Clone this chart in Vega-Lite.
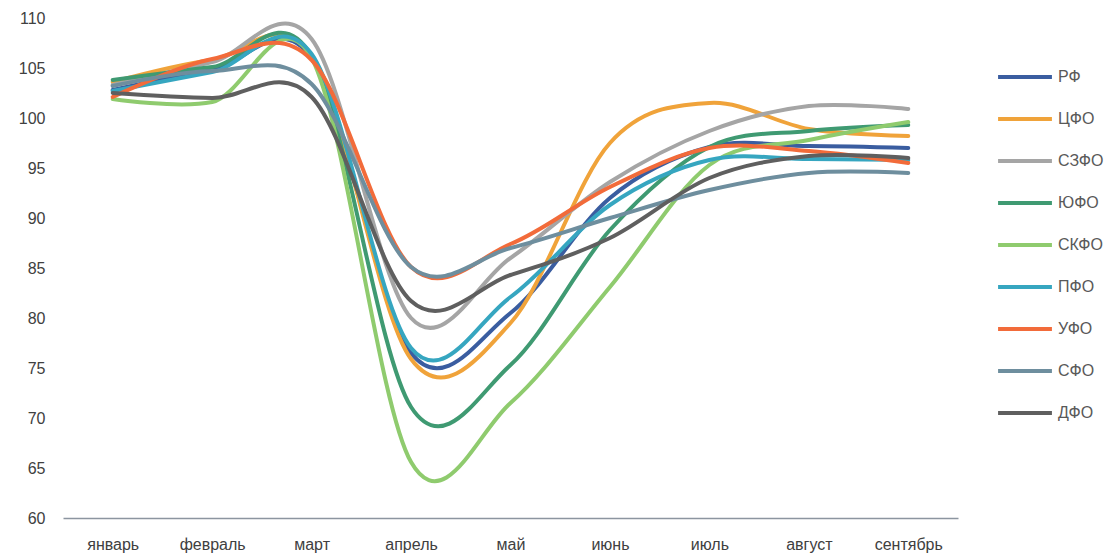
{
  "$schema": "https://vega.github.io/schema/vega-lite/v6.json",
  "width": 895,
  "height": 500,
  "autosize": "none",
  "padding": {"left": 63, "top": 18, "right": 152, "bottom": 39},
  "background": "white",
  "config": {"view": {"stroke": null}, "font": "Liberation Sans"},
  "data": {
    "values": [
      {"region": "РФ", "month": "январь", "value": 102.8},
      {"region": "РФ", "month": "февраль", "value": 104.8},
      {"region": "РФ", "month": "март", "value": 106.0},
      {"region": "РФ", "month": "апрель", "value": 76.5},
      {"region": "РФ", "month": "май", "value": 80.5},
      {"region": "РФ", "month": "июнь", "value": 92.0},
      {"region": "РФ", "month": "июль", "value": 97.1},
      {"region": "РФ", "month": "август", "value": 97.2},
      {"region": "РФ", "month": "сентябрь", "value": 97.0},
      {"region": "ЦФО", "month": "январь", "value": 103.6},
      {"region": "ЦФО", "month": "февраль", "value": 105.8},
      {"region": "ЦФО", "month": "март", "value": 106.2},
      {"region": "ЦФО", "month": "апрель", "value": 75.9},
      {"region": "ЦФО", "month": "май", "value": 79.5},
      {"region": "ЦФО", "month": "июнь", "value": 97.5},
      {"region": "ЦФО", "month": "июль", "value": 101.5},
      {"region": "ЦФО", "month": "август", "value": 98.9},
      {"region": "ЦФО", "month": "сентябрь", "value": 98.2},
      {"region": "СЗФО", "month": "январь", "value": 103.3},
      {"region": "СЗФО", "month": "февраль", "value": 105.6},
      {"region": "СЗФО", "month": "март", "value": 107.9},
      {"region": "СЗФО", "month": "апрель", "value": 80.0},
      {"region": "СЗФО", "month": "май", "value": 86.0},
      {"region": "СЗФО", "month": "июнь", "value": 93.6},
      {"region": "СЗФО", "month": "июль", "value": 98.7},
      {"region": "СЗФО", "month": "август", "value": 101.2},
      {"region": "СЗФО", "month": "сентябрь", "value": 100.9},
      {"region": "ЮФО", "month": "январь", "value": 103.8},
      {"region": "ЮФО", "month": "февраль", "value": 105.1},
      {"region": "ЮФО", "month": "март", "value": 106.2},
      {"region": "ЮФО", "month": "апрель", "value": 71.1},
      {"region": "ЮФО", "month": "май", "value": 75.3},
      {"region": "ЮФО", "month": "июнь", "value": 88.8},
      {"region": "ЮФО", "month": "июль", "value": 97.1},
      {"region": "ЮФО", "month": "август", "value": 98.7},
      {"region": "ЮФО", "month": "сентябрь", "value": 99.3},
      {"region": "СКФО", "month": "январь", "value": 101.9},
      {"region": "СКФО", "month": "февраль", "value": 101.6},
      {"region": "СКФО", "month": "март", "value": 106.0},
      {"region": "СКФО", "month": "апрель", "value": 65.6},
      {"region": "СКФО", "month": "май", "value": 71.5},
      {"region": "СКФО", "month": "июнь", "value": 83.1},
      {"region": "СКФО", "month": "июль", "value": 95.3},
      {"region": "СКФО", "month": "август", "value": 97.8},
      {"region": "СКФО", "month": "сентябрь", "value": 99.6},
      {"region": "ПФО", "month": "январь", "value": 102.7},
      {"region": "ПФО", "month": "февраль", "value": 104.6},
      {"region": "ПФО", "month": "март", "value": 106.4},
      {"region": "ПФО", "month": "апрель", "value": 77.0},
      {"region": "ПФО", "month": "май", "value": 82.1},
      {"region": "ПФО", "month": "июнь", "value": 91.3},
      {"region": "ПФО", "month": "июль", "value": 95.8},
      {"region": "ПФО", "month": "август", "value": 95.9},
      {"region": "ПФО", "month": "сентябрь", "value": 95.8},
      {"region": "УФО", "month": "январь", "value": 102.1},
      {"region": "УФО", "month": "февраль", "value": 105.9},
      {"region": "УФО", "month": "март", "value": 105.8},
      {"region": "УФО", "month": "апрель", "value": 85.1},
      {"region": "УФО", "month": "май", "value": 87.4},
      {"region": "УФО", "month": "июнь", "value": 93.1},
      {"region": "УФО", "month": "июль", "value": 97.0},
      {"region": "УФО", "month": "август", "value": 96.7},
      {"region": "УФО", "month": "сентябрь", "value": 95.5},
      {"region": "СФО", "month": "январь", "value": 103.2},
      {"region": "СФО", "month": "февраль", "value": 104.7},
      {"region": "СФО", "month": "март", "value": 103.4},
      {"region": "СФО", "month": "апрель", "value": 85.1},
      {"region": "СФО", "month": "май", "value": 87.0},
      {"region": "СФО", "month": "июнь", "value": 90.0},
      {"region": "СФО", "month": "июль", "value": 92.8},
      {"region": "СФО", "month": "август", "value": 94.5},
      {"region": "СФО", "month": "сентябрь", "value": 94.5},
      {"region": "ДФО", "month": "январь", "value": 102.5},
      {"region": "ДФО", "month": "февраль", "value": 102.0},
      {"region": "ДФО", "month": "март", "value": 102.1},
      {"region": "ДФО", "month": "апрель", "value": 81.7},
      {"region": "ДФО", "month": "май", "value": 84.3},
      {"region": "ДФО", "month": "июнь", "value": 88.0},
      {"region": "ДФО", "month": "июль", "value": 94.0},
      {"region": "ДФО", "month": "август", "value": 96.2},
      {"region": "ДФО", "month": "сентябрь", "value": 96.0}
    ]
  },
  "mark": {"type": "line", "interpolate": "cardinal", "strokeWidth": 4, "strokeCap": "round"},
  "encoding": {
    "x": {
      "field": "month",
      "type": "ordinal",
      "sort": ["январь", "февраль", "март", "апрель", "май", "июнь", "июль", "август", "сентябрь"],
      "scale": {"type": "point", "padding": 0.5},
      "axis": {
        "title": null,
        "labelAngle": 0,
        "ticks": false,
        "domainColor": "#8C95A0",
        "domainWidth": 1.5,
        "labelColor": "#404040",
        "labelFontSize": 16,
        "labelPadding": 18,
        "labelFont": "Liberation Sans"
      }
    },
    "y": {
      "field": "value",
      "type": "quantitative",
      "scale": {"domain": [60, 110], "nice": false, "zero": false},
      "axis": {
        "title": null,
        "values": [60, 65, 70, 75, 80, 85, 90, 95, 100, 105, 110],
        "grid": false,
        "domain": false,
        "ticks": false,
        "labelColor": "#404040",
        "labelFontSize": 16,
        "labelPadding": 18,
        "labelFont": "Liberation Sans"
      }
    },
    "color": {
      "field": "region",
      "type": "nominal",
      "scale": {
        "domain": ["РФ", "ЦФО", "СЗФО", "ЮФО", "СКФО", "ПФО", "УФО", "СФО", "ДФО"],
        "range": ["#3A5DA0", "#F0A33A", "#A5A5A5", "#3F9A72", "#8FCB6E", "#36A6C0", "#F26B3A", "#6E8E9E", "#5F5F5F"]
      },
      "legend": {
        "title": null,
        "orient": "none",
        "legendX": 933,
        "legendY": 30,
        "symbolType": "stroke",
        "symbolSize": 2900,
        "symbolStrokeWidth": 4,
        "labelFontSize": 16,
        "labelColor": "#595959",
        "labelFont": "Liberation Sans",
        "labelOffset": 4,
        "rowPadding": 5
      }
    }
  }
}
